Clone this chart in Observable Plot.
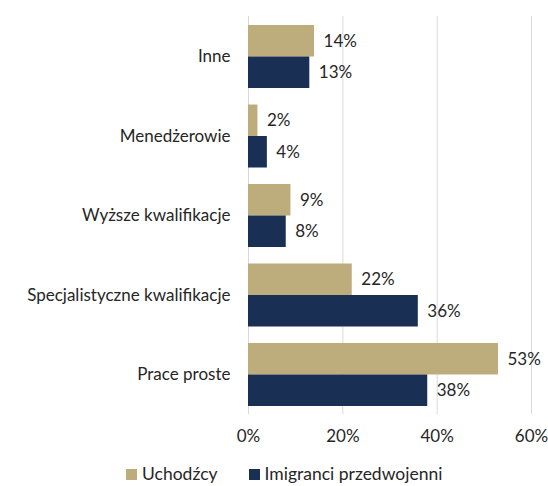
<!DOCTYPE html>
<html>
<head>
<meta charset="utf-8">
<script src="https://cdn.jsdelivr.net/npm/d3@7"></script>
<script src="https://cdn.jsdelivr.net/npm/@observablehq/plot@0.6"></script>
<style>
  html, body { margin: 0; padding: 0; background: #fff; }
  body { width: 548px; font-family: Lato, "Open Sans", sans-serif; }
  #legend { display: flex; align-items: center; height: 24px; margin-top: 2px; padding-left: 126px; font-size: 17.5px; line-height: 1.1; color: #262626; }
  .sw { width: 11px; height: 11px; display: inline-block; margin-right: 5px; }
  .item { display: flex; align-items: center; margin-right: 31px; }
</style>
</head>
<body>
<div id="chart"></div>
<div id="legend"></div>
<script>
const categories = ["Inne", "Menedżerowie", "Wyższe kwalifikacje", "Specjalistyczne kwalifikacje", "Prace proste"];
const series = ["Uchodźcy", "Imigranci przedwojenni"];
const uchodzcy = [14, 2, 9, 22, 53];
const imigranci = [13, 4, 8, 36, 38];
const xTicks = [0, 20, 40, 60];
const colors = ["#BEAD7C", "#1A2F54"];

const rowsU = categories.map((c, i) => ({category: c, series: series[0], value: uchodzcy[i]}));
const rowsI = categories.map((c, i) => ({category: c, series: series[1], value: imigranci[i]}));

const H = 460;
const chart = Plot.plot({
  width: 548,
  height: H,
  marginLeft: 248,
  marginRight: 17,
  marginTop: 25,
  marginBottom: 54,
  style: {fontFamily: "Lato, 'Open Sans', sans-serif", fontSize: "17px", color: "#262626", background: "#fff"},
  x: {domain: [0, 60], ticks: xTicks, tickFormat: d => d + "%", tickSize: 0, tickPadding: 23, label: null},
  y: {domain: categories, paddingInner: 0.2075, paddingOuter: 0, round: false, tickSize: 0, tickPadding: 18, label: null},
  color: {domain: series, range: colors},
  marks: [
    Plot.ruleX(xTicks, {stroke: "#d9d9d9", strokeWidth: 1, insetTop: -9, insetBottom: -8}),
    Plot.barX(rowsU, {y: "category", x: "value", fill: "series", insetBottom: 31.5}),
    Plot.barX(rowsI, {y: "category", x: "value", fill: "series", insetTop: 31.5}),
    Plot.text(rowsU, {y: "category", x: "value", text: d => d.value + "%", dx: 9, dy: -15.5, textAnchor: "start", fill: "#262626", fontSize: 17}),
    Plot.text(rowsI, {y: "category", x: "value", text: d => d.value + "%", dx: 9, dy: 16, textAnchor: "start", fill: "#262626", fontSize: 17})
  ]
});
document.getElementById("chart").appendChild(chart);

const legend = document.getElementById("legend");
series.forEach((s, i) => {
  const item = document.createElement("span");
  item.className = "item";
  const sw = document.createElement("span");
  sw.className = "sw";
  sw.style.background = colors[i];
  item.appendChild(sw);
  item.appendChild(document.createTextNode(s));
  legend.appendChild(item);
});
</script>
</body>
</html>
